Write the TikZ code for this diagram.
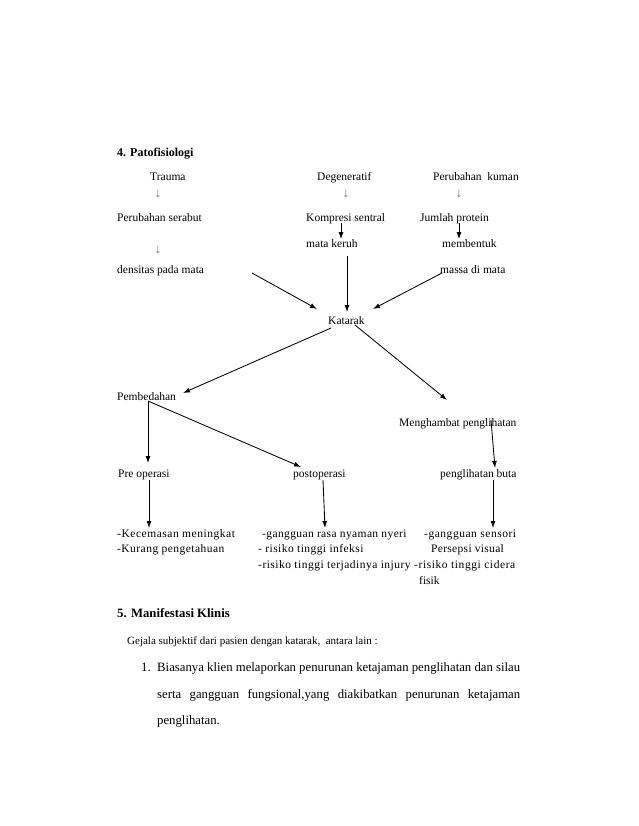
\documentclass[tikz,border=0pt]{standalone}
\usepackage{fontspec}
\setmainfont{Liberation Serif}
\usetikzlibrary{arrows.meta}
\newcommand{\lsp}[2]{{\addfontfeature{LetterSpace=#1}#2}}
\tikzset{
  txt/.style={anchor=base west,inner sep=0pt,font=\fontsize{11.5}{14}\selectfont},
  ptxt/.style={anchor=base west,inner sep=0pt,font=\fontsize{12.75}{15}\selectfont},
  gtxt/.style={anchor=base west,inner sep=0pt,font=\fontsize{11}{14}\selectfont},
  hd/.style={txt,font=\fontsize{12}{14}\selectfont\bfseries},
  darr/.style={anchor=base,inner sep=0pt,text=black!55,font=\fontsize{13.5}{15}\selectfont},
  arr/.style={line width=0.85pt,-{Latex[length=7pt,width=5pt]}}
}
\begin{document}
\begin{tikzpicture}[x=1pt,y=-1pt]
\useasboundingbox (0,0) rectangle (638,826);
% heading
\node[hd] (h4) at (117,157) {4. Patofisiologi};
% column texts
\node[txt] (trauma) at (150,181) {Trauma};
\node[darr] (d1) at (158,198) {↓};
\node[txt] (serabut) at (117,222) {Perubahan serabut};
\node[darr] (d2) at (158,253) {↓};
\node[txt] (densitas) at (117,273) {densitas pada mata};

\node[txt] (degen) at (317,181) {Degeneratif};
\node[darr] (d3) at (346,198) {↓};
\node[txt] (kompresi) at (306,222) {Kompresi sentral};
\node[txt] (keruh) at (306,247) {mata keruh};

\node[txt] (kuman) at (433,181) {Perubahan\ \ kuman};
\node[darr] (d4) at (459,198) {↓};
\node[txt] (protein) at (420,222) {Jumlah protein};
\node[txt] (membentuk) at (442,247) {membentuk};
\node[txt] (massa) at (440,273) {massa di mata};

\node[txt] (katarak) at (328,324) {Katarak};

\node[txt] (pembedahan) at (117,400) {Pembedahan};
\node[txt] (menghambat) at (399,426) {Menghambat penglihatan};

\node[txt] (preop) at (118,477) {Pre operasi};
\node[txt] (postop) at (293,477) {postoperasi};
\node[txt] (buta) at (440,477) {penglihatan buta};

\node[txt] (kecemasan) at (117,537) {\lsp{4.6}{-Kecemasan meningkat}};
\node[txt] (kurang) at (117,552) {\lsp{4.0}{-Kurang pengetahuan}};
\node[txt] (nyeri) at (262,537) {\lsp{3.3}{-gangguan rasa nyaman nyeri}};
\node[txt] (infeksi) at (258,552) {\lsp{3.9}{- risiko tinggi infeksi}};
\node[txt] (injury) at (258,568) {\lsp{4.2}{-risiko tinggi terjadinya injury}};
\node[txt] (sensori) at (424,537) {\lsp{4.6}{-gangguan sensori}};
\node[txt] (persepsi) at (431,552) {\lsp{2.7}{Persepsi visual}};
\node[txt] (cidera) at (414,568) {\lsp{5}{-risiko tinggi cidera}};
\node[txt] (fisik) at (419,584) {fisik};

% section 5
\node[ptxt] (h5) at (117,617) {\bfseries 5. Manifestasi Klinis};
\node[gtxt] (gejala) at (127,644) {Gejala subjektif dari pasien dengan katarak,\ \ antara lain :};
\node[ptxt] (num1) at (141,671) {1.};
\node[ptxt] (l1) at (157,671) {\makebox[363pt][s]{Biasanya klien melaporkan penurunan ketajaman penglihatan dan silau}};
\node[ptxt] (l2) at (157,698) {\makebox[363pt][s]{serta gangguan fungsional,yang diakibatkan penurunan ketajaman}};
\node[ptxt] (l3) at (157,724) {penglihatan.};

% connector end points
\coordinate (kompS) at (341,223);
\coordinate (keruhN) at (341,239);
\coordinate (protS) at (459,223);
\coordinate (membN) at (459,239);
\coordinate (keruhS) at (347,256);
\coordinate (katN) at (347,312);
\coordinate (densE) at (252,273);
\coordinate (katNW) at (317,309);
\coordinate (massaW) at (442,273);
\coordinate (katNE) at (373,309);
\coordinate (katSW) at (331,328);
\coordinate (pembE) at (183,393);
\coordinate (katSE) at (355,325);
\coordinate (mengN) at (447,400);
\coordinate (pembS) at (148,401);
\coordinate (preN) at (148,463);
\coordinate (postN) at (301,467);
\coordinate (mengS) at (491,420);
\coordinate (butaN) at (495,468);
\coordinate (preS) at (149,480);
\coordinate (kecN) at (149,528);
\coordinate (postS) at (323,480);
\coordinate (nyeriN) at (325,528);
\coordinate (butaS) at (493,480);
\coordinate (sensN) at (493,528);

\draw[arr] (kompS) -- (keruhN);
\draw[arr] (protS) -- (membN);
\draw[arr] (keruhS) -- (katN);
\draw[arr] (densE) -- (katNW);
\draw[arr] (massaW) -- (katNE);
\draw[arr] (katSW) -- (pembE);
\draw[arr] (katSE) -- (mengN);
\draw[arr] (pembS) -- (preN);
\draw[arr] (pembS) -- (postN);
\draw[arr] (mengS) -- (butaN);
\draw[arr] (preS) -- (kecN);
\draw[arr] (postS) -- (nyeriN);
\draw[arr] (butaS) -- (sensN);
\end{tikzpicture}
\end{document}
